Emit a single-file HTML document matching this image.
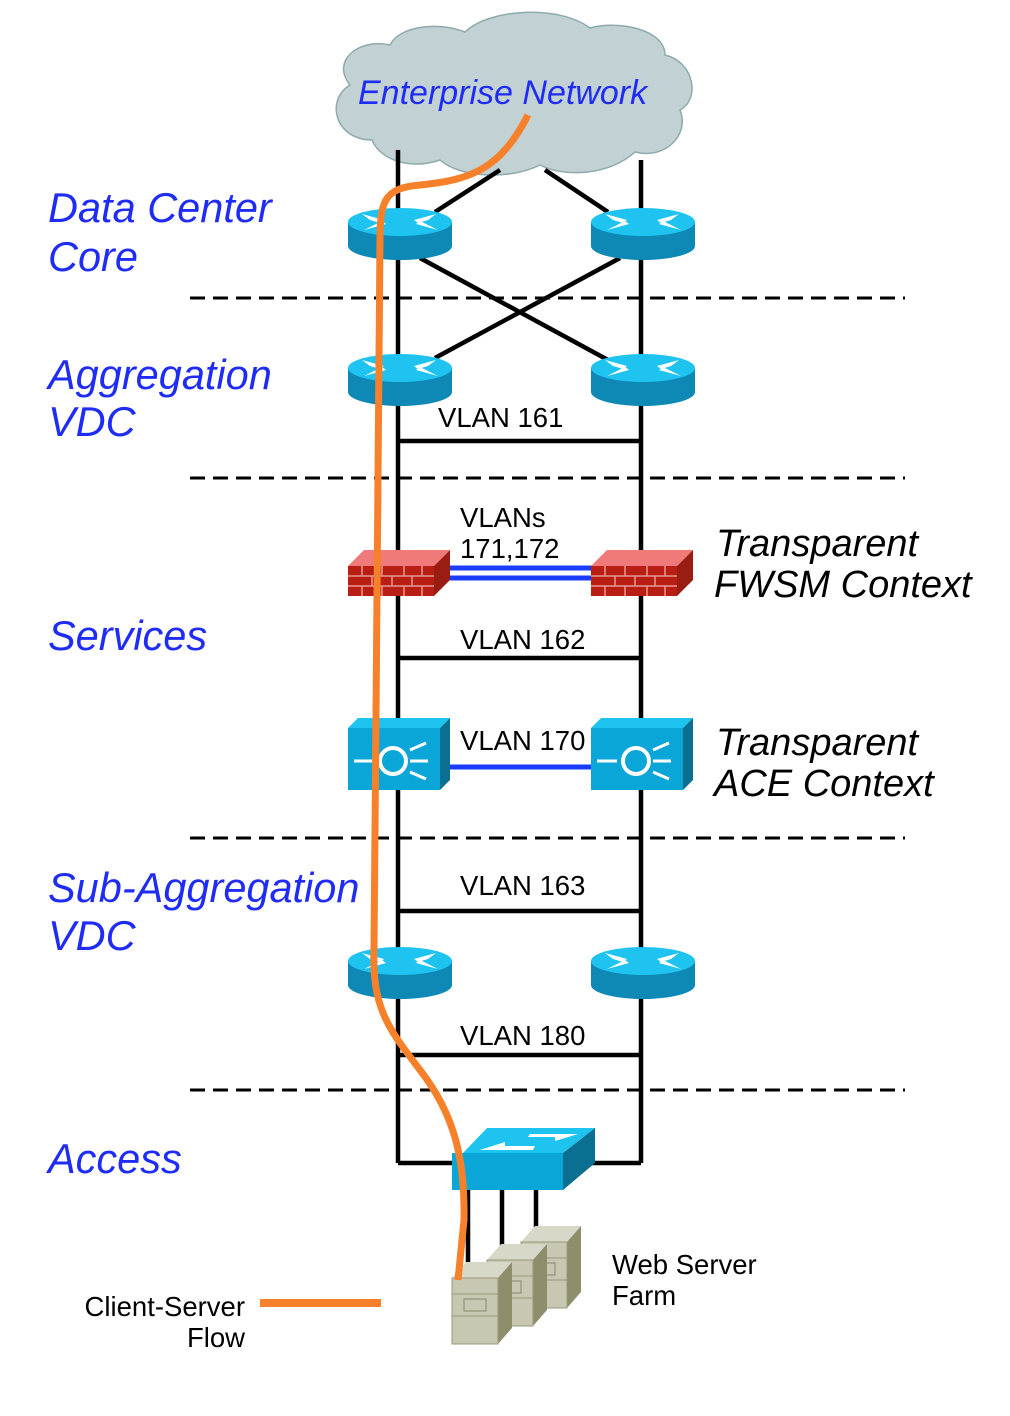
<!DOCTYPE html>
<html><head><meta charset="utf-8"><style>
html,body{margin:0;padding:0;background:#fff;}
svg{display:block;}
.bl{font-family:"Liberation Sans",sans-serif;font-style:italic;fill:#1f2cf5;font-size:41.5px;}
.rt{font-family:"Liberation Sans",sans-serif;font-style:italic;fill:#000;font-size:38px;}
.vl{font-family:"Liberation Sans",sans-serif;fill:#000;font-size:27.5px;}
</style></head><body>
<svg width="1010" height="1416" viewBox="0 0 1010 1416" xmlns="http://www.w3.org/2000/svg">
<defs>
<g id="rtr">
<ellipse cx="0" cy="12" rx="52" ry="14" fill="#0e88b5"/>
<rect x="-52" y="-12" width="104" height="24" fill="#0e88b5"/>
<ellipse cx="0" cy="-12" rx="52" ry="14" fill="#1ec3f0"/>
<g fill="#fff">
<polygon points="-38,-20 -16,-14 -20,-11 -30,-14"/>
<polygon points="-36,-4 -14,-10 -18,-13 -28,-8"/>
<polygon points="36,-20 14,-14 18,-11 28,-14"/>
<polygon points="38,-4 16,-10 20,-13 30,-8"/>
</g>
</g>
<g id="fw">
<polygon points="0,16 16,0 102,0 86,16" fill="#f07a7a"/>
<polygon points="86,16 102,0 102,30 86,46" fill="#9a1d14"/>
<rect x="0" y="16" width="86" height="30" fill="#b81e14"/>
<g stroke="#e89a90" stroke-width="1.5">
<line x1="0" y1="26" x2="86" y2="26"/><line x1="0" y1="36" x2="86" y2="36"/>
<line x1="14" y1="16" x2="14" y2="26"/><line x1="34" y1="16" x2="34" y2="26"/><line x1="56" y1="16" x2="56" y2="26"/><line x1="74" y1="16" x2="74" y2="26"/>
<line x1="24" y1="26" x2="24" y2="36"/><line x1="44" y1="26" x2="44" y2="36"/><line x1="64" y1="26" x2="64" y2="36"/>
<line x1="14" y1="36" x2="14" y2="46"/><line x1="34" y1="36" x2="34" y2="46"/><line x1="56" y1="36" x2="56" y2="46"/><line x1="74" y1="36" x2="74" y2="46"/>
</g>
</g>
<g id="ace">
<polygon points="0,10 10,0 102,0 92,10" fill="#1ec3f0"/>
<polygon points="92,10 102,0 102,62 92,72" fill="#0b6f92"/>
<rect x="0" y="10" width="92" height="62" fill="#0aa6d8"/>
<circle cx="45" cy="43" r="13" fill="none" stroke="#fff" stroke-width="4"/>
<line x1="6" y1="43" x2="26" y2="43" stroke="#fff" stroke-width="3"/>
<g stroke="#fff" stroke-width="3"><line x1="62" y1="32" x2="78" y2="25"/><line x1="62" y1="43" x2="80" y2="43"/><line x1="62" y1="54" x2="78" y2="61"/></g>
</g>
<g id="srv">
<polygon points="0,16 14,0 60,0 46,16" fill="#d8d8c8"/>
<polygon points="46,16 60,0 60,66 46,82" fill="#8e8e6c"/>
<rect x="0" y="16" width="46" height="66" fill="#c8c8b2" stroke="#99997c"/>
<line x1="0" y1="32" x2="46" y2="32" stroke="#99997c"/>
<line x1="0" y1="54" x2="46" y2="54" stroke="#99997c"/>
<rect x="12" y="37" width="22" height="12" fill="none" stroke="#88886c"/>
</g>
</defs>

<path d="M372,140 C335,140 325,100 350,85 C330,60 360,38 390,45 C400,25 440,22 465,32 C490,8 560,5 590,28 C620,20 665,30 665,55 C695,62 700,100 680,110 C690,135 665,160 635,152 C610,175 565,178 540,165 C510,180 460,178 440,160 C410,170 380,160 372,140 Z" fill="#c2d1d3" stroke="#8eaaab" stroke-width="1.5"/>
<text x="358" y="104" class="bl" style="font-size:34px">Enterprise Network</text>

<g stroke="#000" stroke-width="4.5" fill="none">
<line x1="398" y1="150" x2="398" y2="1163"/>
<line x1="641" y1="160" x2="641" y2="1163"/>
<line x1="500" y1="170" x2="435" y2="212"/>
<line x1="545" y1="170" x2="608" y2="212"/>
<line x1="420" y1="258" x2="608" y2="360"/>
<line x1="620" y1="258" x2="435" y2="358"/>
<line x1="398" y1="441" x2="641" y2="441"/>
<line x1="398" y1="658" x2="641" y2="658"/>
<line x1="398" y1="911" x2="641" y2="911"/>
<line x1="398" y1="1055" x2="641" y2="1055"/>
<polyline points="398,1163 460,1163"/>
<polyline points="590,1163 641,1163"/>
<line x1="468" y1="1190" x2="468" y2="1265"/>
<line x1="502" y1="1190" x2="502" y2="1250"/>
<line x1="536" y1="1190" x2="536" y2="1232"/>
</g>
<g stroke="#000" stroke-width="3" stroke-dasharray="15,8">
<line x1="190" y1="298" x2="905" y2="298"/>
<line x1="190" y1="478" x2="905" y2="478"/>
<line x1="190" y1="838" x2="905" y2="838"/>
<line x1="190" y1="1090" x2="905" y2="1090"/>
</g>
<g stroke="#1a3cff" stroke-width="5">
<line x1="450" y1="568" x2="592" y2="568"/>
<line x1="450" y1="578" x2="592" y2="578"/>
<line x1="450" y1="767" x2="592" y2="767"/>
</g>

<use href="#rtr" x="400" y="234"/>
<use href="#rtr" x="643" y="234"/>
<use href="#rtr" x="400" y="380"/>
<use href="#rtr" x="643" y="380"/>
<use href="#rtr" x="400" y="973"/>
<use href="#rtr" x="643" y="973"/>
<use href="#fw" x="348" y="550"/>
<use href="#fw" x="591" y="550"/>
<use href="#ace" x="348" y="718"/>
<use href="#ace" x="591" y="718"/>

<polygon points="463,1153 487,1128 595,1128 563,1153" fill="#1ec3f0"/>
<polygon points="563,1153 595,1128 595,1163 563,1190" fill="#0b6f92"/>
<rect x="452" y="1153" width="111" height="37" fill="#0aa6d8"/>
<g fill="#fff"><polygon points="480,1150 505,1142 505,1146 535,1146 533,1150"/><polygon points="578,1134 555,1141 555,1137 528,1137 530,1134"/></g>

<use href="#srv" x="521" y="1226"/>
<use href="#srv" x="487" y="1244"/>
<use href="#srv" x="452" y="1262"/>

<path d="M528,115 C500,170 470,180 420,185 C385,188 380,200 380,240 L374,950 C372,1010 390,1030 420,1070 C455,1115 465,1160 464,1220 L458,1280" fill="none" stroke="#f7812a" stroke-width="7"/>
<line x1="260" y1="1303" x2="381" y2="1303" stroke="#f7812a" stroke-width="8"/>

<text x="48" y="222" class="bl">Data Center</text>
<text x="48" y="271" class="bl">Core</text>
<text x="48" y="389" class="bl">Aggregation</text>
<text x="48" y="436" class="bl">VDC</text>
<text x="48" y="650" class="bl">Services</text>
<text x="48" y="902" class="bl">Sub-Aggregation</text>
<text x="48" y="950" class="bl">VDC</text>
<text x="48" y="1173" class="bl">Access</text>

<text x="716" y="556" class="rt">Transparent</text>
<text x="714" y="597" class="rt">FWSM Context</text>
<text x="716" y="755" class="rt">Transparent</text>
<text x="714" y="796" class="rt">ACE Context</text>

<text x="438" y="427" class="vl">VLAN 161</text>
<text x="460" y="527" class="vl">VLANs</text>
<text x="460" y="558" class="vl">171,172</text>
<text x="460" y="649" class="vl">VLAN 162</text>
<text x="460" y="750" class="vl">VLAN 170</text>
<text x="460" y="895" class="vl">VLAN 163</text>
<text x="460" y="1045" class="vl">VLAN 180</text>
<text x="612" y="1274" class="vl">Web Server</text>
<text x="612" y="1305" class="vl">Farm</text>
<text x="245" y="1316" class="vl" text-anchor="end">Client-Server</text>
<text x="245" y="1347" class="vl" text-anchor="end">Flow</text>
</svg>
</body></html>
